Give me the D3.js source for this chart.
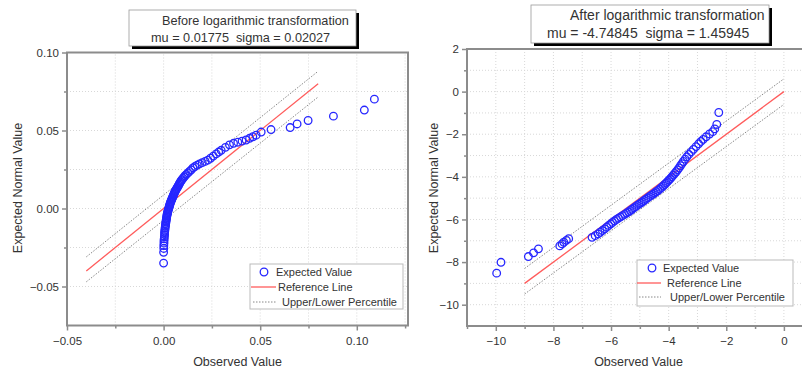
<!DOCTYPE html>
<html>
<head>
<meta charset="utf-8">
<script src="https://cdn.jsdelivr.net/npm/d3@7"></script>
<style>
  body { margin: 0; background: #fff; }
  text { font-family: "Liberation Sans", Arial, sans-serif; fill: #333; white-space: pre; }
</style>
</head>
<body>
<svg id="chart" width="802" height="373"></svg>
<script>
// ---- data ----
const beforeObserved = [0.0000,0.0000,0.0001,0.0001,0.0002,0.0002,0.0003,0.0004,0.0005,0.0005,
  0.0006,0.0007,0.0008,0.0009,0.0010,0.0011,0.0012,0.0013,0.0014,0.0015,
  0.0016,0.0017,0.0018,0.0019,0.0021,0.0022,0.0023,0.0025,0.0027,0.0028,
  0.0030,0.0031,0.0033,0.0034,0.0036,0.0038,0.0040,0.0042,0.0044,0.0046,
  0.0048,0.0050,0.0052,0.0054,0.0056,0.0058,0.0061,0.0063,0.0066,0.0069,
  0.0072,0.0075,0.0078,0.0081,0.0084,0.0087,0.0091,0.0095,0.0100,0.0105,
  0.0111,0.0118,0.0126,0.0134,0.0143,0.0152,0.0162,0.0174,0.0186,0.0200,
  0.0215,0.0229,0.0243,0.0257,0.0272,0.0285,0.0298,0.0320,0.0341,0.0362,
  0.0384,0.0406,0.0427,0.0445,0.0462,0.0479,0.0505,0.0556,0.0655,0.0691,
  0.0748,0.0879,0.1039,0.1091];
const beforeExpected = [-0.0350,-0.0281,-0.0256,-0.0238,-0.0222,-0.0208,-0.0195,-0.0181,-0.0168,-0.0156,
  -0.0145,-0.0134,-0.0124,-0.0114,-0.0105,-0.0096,-0.0087,-0.0079,-0.0071,-0.0063,
  -0.0055,-0.0047,-0.0040,-0.0033,-0.0026,-0.0019,-0.0012,-0.0005,0.0001,0.0008,
  0.0014,0.0021,0.0027,0.0033,0.0040,0.0046,0.0052,0.0058,0.0064,0.0070,
  0.0076,0.0082,0.0088,0.0094,0.0100,0.0106,0.0112,0.0118,0.0124,0.0130,
  0.0137,0.0143,0.0150,0.0157,0.0164,0.0171,0.0178,0.0185,0.0193,0.0201,
  0.0210,0.0219,0.0228,0.0238,0.0248,0.0260,0.0269,0.0278,0.0286,0.0294,
  0.0302,0.0310,0.0322,0.0336,0.0350,0.0362,0.0373,0.0392,0.0408,0.0418,
  0.0425,0.0432,0.0439,0.0450,0.0460,0.0470,0.0490,0.0506,0.0519,0.0542,
  0.0564,0.0592,0.0631,0.0701];

const afterObserved = [-9.97,-9.82,-8.87,-8.69,-8.52,-7.78,-7.70,-7.64,-7.55,-7.47,
  -6.66,-6.55,-6.45,-6.38,-6.30,-6.22,-6.15,-6.08,-6.01,-5.95,
  -5.88,-5.81,-5.74,-5.67,-5.60,-5.53,-5.46,-5.39,-5.33,-5.27,
  -5.21,-5.15,-5.09,-5.03,-4.97,-4.91,-4.85,-4.79,-4.73,-4.67,
  -4.61,-4.55,-4.49,-4.43,-4.37,-4.31,-4.25,-4.19,-4.14,-4.09,
  -4.04,-3.99,-3.94,-3.89,-3.84,-3.79,-3.74,-3.69,-3.64,-3.59,
  -3.54,-3.49,-3.43,-3.37,-3.30,-3.22,-3.14,-3.05,-2.96,-2.88,
  -2.80,-2.70,-2.58,-2.47,-2.40,-2.33,-2.26];
const afterExpected = [-8.52,-8.01,-7.74,-7.57,-7.38,-7.24,-7.15,-7.07,-6.98,-6.90,
  -6.84,-6.76,-6.68,-6.60,-6.52,-6.44,-6.36,-6.28,-6.21,-6.14,
  -6.07,-6.00,-5.94,-5.88,-5.82,-5.76,-5.70,-5.64,-5.58,-5.52,
  -5.46,-5.40,-5.34,-5.28,-5.23,-5.17,-5.11,-5.05,-4.99,-4.93,
  -4.87,-4.82,-4.76,-4.70,-4.64,-4.57,-4.50,-4.43,-4.36,-4.29,
  -4.22,-4.15,-4.08,-4.00,-3.92,-3.84,-3.76,-3.67,-3.58,-3.48,
  -3.38,-3.28,-3.17,-3.06,-2.95,-2.83,-2.71,-2.58,-2.45,-2.34,
  -2.24,-2.12,-1.99,-1.88,-1.75,-1.54,-0.98];

// reference line and percentile band end points
const beforeRefX = [-0.04, 0.08];
const beforeRefY = [-0.04, 0.08];
const beforeUpperY = [-0.031, 0.088];
const beforeLowerY = [-0.047, 0.0715];
const afterRefX = [-9, 0];
const afterRefY = [-9, 0];
const afterUpperY = [-8.3, 0.6];
const afterLowerY = [-9.5, -0.6];

// ticks
const beforeXTicks = [-0.05, 0.00, 0.05, 0.10];
const beforeXMinor = [-0.025, 0.025, 0.075, 0.125];
const beforeYTicks = [-0.05, 0.00, 0.05, 0.10];
const beforeYMinor = [-0.075, -0.025, 0.025, 0.075];
const afterXTicks = [-10, -8, -6, -4, -2, 0];
const afterXMinor = [-11, -9, -7, -5, -3, -1];
const afterYTicks = [-10, -8, -6, -4, -2, 0, 2];
const afterYMinor = [-11, -9, -7, -5, -3, -1, 1];

const titleLines1 = ["Before logarithmic transformation", "mu = 0.01775  sigma = 0.02027"];
const titleLines2 = ["After logarithmic transformation", "mu = -4.74845  sigma = 1.45945"];
const legendLabels = ["Expected Value", "Reference Line", "Upper/Lower Percentile"];

const svg = d3.select("#chart");
const pointColor = "#2626ff";
const refColor = "#ff5c5c";
const frameColor = "#8c8c8c";

function drawPanel(cfg) {
  const x = d3.scaleLinear().domain(cfg.xDomain).range(cfg.xRange);
  const y = d3.scaleLinear().domain(cfg.yDomain).range(cfg.yRange);
  const g = svg.append("g");

  // grid
  const gx = cfg.xTicks.concat(cfg.xMinor).filter(v => v > cfg.xDomain[0] && v < cfg.xDomain[1]);
  const gy = cfg.yTicks.concat(cfg.yMinor).filter(v => v > cfg.yDomain[0] && v < cfg.yDomain[1]);
  g.selectAll(".gx").data(gx).join("line")
    .attr("x1", d => x(d)).attr("x2", d => x(d))
    .attr("y1", cfg.yRange[0]).attr("y2", cfg.yRange[1])
    .attr("stroke", "#d8d8d8").attr("stroke-dasharray", "1,2");
  g.selectAll(".gy").data(gy).join("line")
    .attr("y1", d => y(d)).attr("y2", d => y(d))
    .attr("x1", cfg.xRange[0]).attr("x2", cfg.xRange[1])
    .attr("stroke", "#d8d8d8").attr("stroke-dasharray", "1,2");

  // axes
  const xAxis = g.append("g").attr("transform", `translate(0,${cfg.yRange[0]})`)
    .call(d3.axisBottom(x).tickValues(cfg.xTicks).tickSize(5).tickPadding(6).tickFormat(cfg.fmt));
  const xMin = g.append("g").attr("transform", `translate(0,${cfg.yRange[0]})`)
    .call(d3.axisBottom(x).tickValues(cfg.xMinor.filter(v => v <= cfg.xDomain[1])).tickSize(3).tickFormat(""));
  const yAxis = g.append("g").attr("transform", `translate(${cfg.xRange[0]},0)`)
    .call(d3.axisLeft(y).tickValues(cfg.yTicks).tickSize(5).tickPadding(3).tickFormat(cfg.fmt));
  const yMin = g.append("g").attr("transform", `translate(${cfg.xRange[0]},0)`)
    .call(d3.axisLeft(y).tickValues(cfg.yMinor.filter(v => v > cfg.yDomain[0])).tickSize(3).tickFormat(""));
  [xAxis, xMin, yAxis, yMin].forEach(a => {
    a.select(".domain").remove();
    a.selectAll("line").attr("stroke", frameColor).attr("stroke-width", 1.5);
    a.selectAll("text").attr("font-size", 11.5).attr("fill", "#444")
      .attr("font-family", "'Liberation Sans', Arial, sans-serif");
  });

  // frame
  g.append("rect")
    .attr("x", cfg.xRange[0]).attr("y", cfg.yRange[1])
    .attr("width", cfg.xRange[1] - cfg.xRange[0]).attr("height", cfg.yRange[0] - cfg.yRange[1])
    .attr("fill", "none").attr("stroke", frameColor).attr("stroke-width", 2);

  // percentile lines & reference line
  const line = d3.line().x(d => x(d[0])).y(d => y(d[1]));
  [cfg.upperY, cfg.lowerY].forEach(arr => {
    g.append("path").datum(d3.zip(cfg.refX, arr)).attr("d", line)
      .attr("fill", "none").attr("stroke", "#888").attr("stroke-width", 1)
      .attr("stroke-dasharray", "1.5,1.5");
  });
  g.append("path").datum(d3.zip(cfg.refX, cfg.refY)).attr("d", line)
    .attr("fill", "none").attr("stroke", refColor).attr("stroke-width", 1.3);

  // points
  g.selectAll(".pt").data(d3.zip(cfg.obs, cfg.exp)).join("circle")
    .attr("cx", d => x(d[0])).attr("cy", d => y(d[1])).attr("r", 3.8)
    .attr("fill", "none").attr("stroke", pointColor).attr("stroke-width", 1.3);

  // axis titles
  g.append("text").attr("x", (cfg.xRange[0] + Math.min(cfg.xRange[1], 802)) / 2 - cfg.xTitleShift)
    .attr("y", 366).attr("text-anchor", "middle").attr("font-size", 12.5).text("Observed Value");
  g.append("text").attr("transform", `translate(${cfg.yTitleX},188) rotate(-90)`)
    .attr("text-anchor", "middle").attr("font-size", 12.5).text("Expected Normal Value");

  // title box
  const b = cfg.box;
  g.append("rect").attr("x", b.x + 3).attr("y", b.y + 3).attr("width", b.w).attr("height", b.h).attr("fill", "#000");
  g.append("rect").attr("x", b.x).attr("y", b.y).attr("width", b.w).attr("height", b.h)
    .attr("fill", "#fff").attr("stroke", "#999").attr("stroke-width", 0.8);
  cfg.title.forEach((t, i) => {
    g.append("text").attr("x", b.tx[i]).attr("y", b.ty[i]).attr("font-size", b.fs)
      .attr("fill", "#222").attr("xml:space", "preserve").text(t);
  });

  // legend
  const L = cfg.legend;
  g.append("rect").attr("x", L.x).attr("y", L.y).attr("width", L.w).attr("height", L.h)
    .attr("fill", "#fff").attr("stroke", "#bbb").attr("stroke-width", 1);
  g.append("circle").attr("cx", L.cx).attr("cy", L.rows[0]).attr("r", 3.8)
    .attr("fill", "none").attr("stroke", pointColor).attr("stroke-width", 1.3);
  g.append("line").attr("x1", L.lx[0]).attr("x2", L.lx[1]).attr("y1", L.rows[1]).attr("y2", L.rows[1])
    .attr("stroke", refColor).attr("stroke-width", 1.3);
  g.append("line").attr("x1", L.lx[0] + 2).attr("x2", L.lx[1]).attr("y1", L.rows[2]).attr("y2", L.rows[2])
    .attr("stroke", "#888").attr("stroke-width", 1).attr("stroke-dasharray", "1.5,1.5");
  legendLabels.forEach((t, i) => {
    g.append("text").attr("x", L.tx[i]).attr("y", L.rows[i] + 4).attr("font-size", 11).text(t);
  });
}

drawPanel({
  obs: beforeObserved, exp: beforeExpected,
  refX: beforeRefX, refY: beforeRefY, upperY: beforeUpperY, lowerY: beforeLowerY,
  xDomain: [-0.05, 0.1265], xRange: [67, 408],
  yDomain: [-0.075, 0.10], yRange: [325.5, 52.5],
  xTicks: beforeXTicks, xMinor: beforeXMinor, yTicks: beforeYTicks, yMinor: beforeYMinor,
  fmt: d3.format(".2f"), xTitleShift: 0, yTitleX: 22,
  title: titleLines1,
  box: {x: 129, y: 10, w: 227, h: 36, tx: [162, 151], ty: [25, 42], fs: 12.7},
  legend: {x: 250, y: 264, w: 153, h: 45, cx: 264, lx: [251, 276], rows: [272, 287, 302], tx: [276, 278, 282]}
});

drawPanel({
  obs: afterObserved, exp: afterExpected,
  refX: afterRefX, refY: afterRefY, upperY: afterUpperY, lowerY: afterLowerY,
  xDomain: [-11, 0.75], xRange: [467, 805.5],
  yDomain: [-11, 2], yRange: [326, 49],
  xTicks: afterXTicks, xMinor: afterXMinor, yTicks: afterYTicks, yMinor: afterYMinor,
  fmt: d3.format("d"), xTitleShift: -4, yTitleX: 438,
  title: titleLines2,
  box: {x: 531, y: 5, w: 238, h: 38, tx: [570, 547], ty: [20, 38], fs: 14},
  legend: {x: 637, y: 260, w: 156, h: 46, cx: 652, lx: [637, 661], rows: [268, 283, 297], tx: [663, 667, 670]}
});
</script>
</body>
</html>
